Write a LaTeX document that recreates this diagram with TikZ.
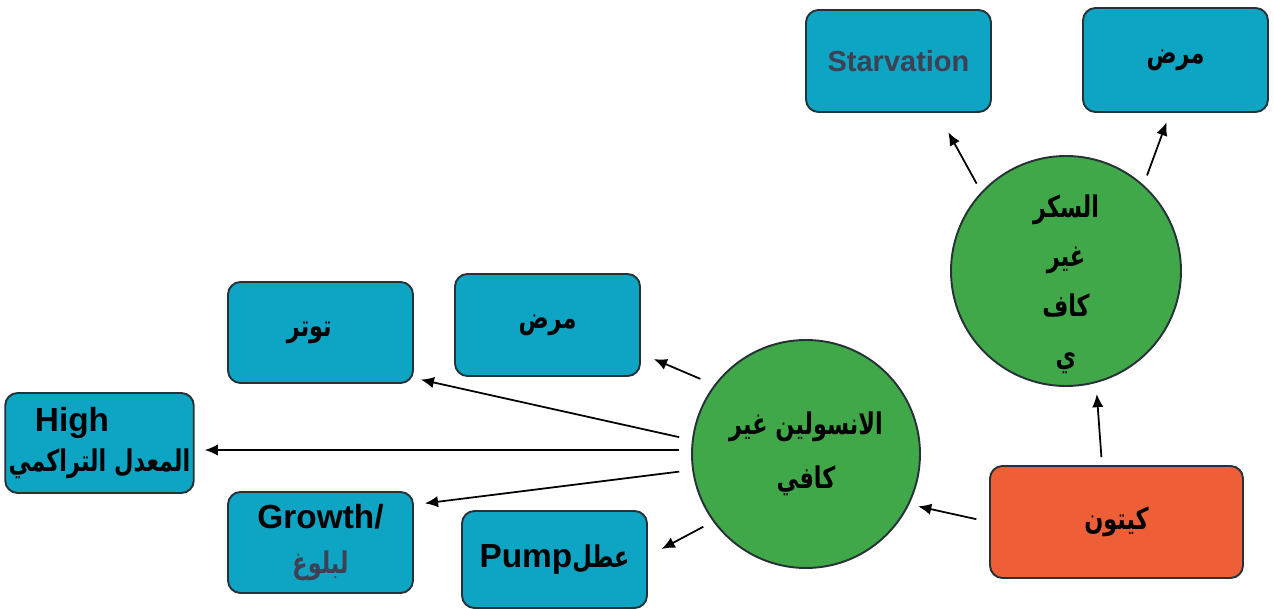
\documentclass[tikz,border=0pt]{standalone}
\usepackage{fontspec}
\setmainfont{Liberation Sans}
\newfontfamily\arabicfont[Script=Arabic, FakeStretch=0.75]{DejaVu Sans}
\TeXXeTstate=1
\usetikzlibrary{arrows.meta}
\definecolor{boxfill}{RGB}{14, 164, 196}
\definecolor{boxline}{RGB}{38, 50, 56}
\definecolor{causefill}{RGB}{64, 168, 72}
\definecolor{ketofill}{RGB}{238, 95, 56}
\definecolor{softtext}{RGB}{62, 64, 84}
\newcommand{\arb}[1]{{\arabicfont\fontsize{17}{20}\selectfont\beginR #1\endR}}
\tikzset{
    every node/.style={font=\bfseries\fontsize{19}{23}\selectfont},
    effect/.style={draw=boxline, line width=1.1pt, fill=boxfill,
        rounded corners=.25cm, minimum width=3.7cm, minimum height=2.02cm,
        align=center, inner sep=2pt},
    cause/.style={circle, draw=boxline, line width=1.1pt, fill=causefill,
        minimum size=4.56cm, align=center, inner sep=0pt},
    flow/.style={-{Latex[length=7.5pt, width=6.5pt]}, line width=1pt},
}

\begin{document}
\begin{tikzpicture}
    \useasboundingbox (0, 0) rectangle (25.48, 12.18);
    % the two causes and the ketone box
    \node[cause, font=\bfseries\fontsize{19}{31}\selectfont] (ins)
        at (16.12, 3.10) {\arb{الانسولين غير}\\\arb{كافي}};
    \node[cause, minimum size=4.6cm, label={[align=center, yshift=-.26cm,
        font=\bfseries\fontsize{19}{28.3}\selectfont]center:
        \arb{السكر}\\\arb{غير}\\\arb{كاف}\\\arb{ي}}]
        (sugar) at (21.32, 6.76) {};
    \node[effect, fill=ketofill, minimum width=5.06cm, minimum height=2.24cm]
        (keton) at (22.33, 1.74) {\arb{كيتون}};
    % effects
    \node[effect, minimum height=2.04cm] (starv) at (17.97, 10.96)
        {\color{softtext}\fontsize{16.5}{20}\selectfont Starvation};
    \node[effect, minimum height=2.08cm] (disT) at (23.51, 10.98) {\arb{مرض}};
    \node[effect] (stress) at (6.41, 5.53) {\arb{توتر}\hspace*{.45cm}};
    \node[effect, minimum height=2.04cm] (disM) at (10.95, 5.68) {\arb{مرض}};
    \node[effect, minimum height=2cm, font=\bfseries\fontsize{19}{22.8}\selectfont]
        (high) at (1.99, 3.32) {High\hspace*{1.1cm}\\\arb{المعدل التراكمي}};
    \node[effect, font=\bfseries\fontsize{19}{25.6}\selectfont] (growth)
        at (6.41, 1.33) {Growth/\\{\color{softtext}\arb{لبلوغ}}};
    \node[effect, minimum height=1.94cm] (pump) at (11.09, .99)
        {Pump\arb{عطل}};
    % arrows
    \draw[flow, shorten <=.3cm, shorten >=.28cm] (ins.143) -- (disM.-17);
    \draw[flow, shorten <=.26cm, shorten >=.14cm] (ins.173) -- (stress.-26);
    \draw[flow, shorten <=.24cm, shorten >=.2cm] (ins.178) -- (ins.178 -| high.east);
    \draw[flow, shorten <=.26cm, shorten >=.22cm] (ins.188) -- (growth.22);
    \draw[flow, shorten <=.22cm, shorten >=.31cm] (ins.216) -- (pump.2);
    \draw[flow, shorten <=.26cm, shorten >=.18cm] (keton.west) -- (ins.-26);
    \draw[flow, shorten <=.16cm, shorten >=.22cm] ([xshift=-.29cm]keton.north)
        -- (sugar.-75);
    \draw[flow, shorten <=.19cm, shorten >=.44cm] (sugar.137) -- (starv.-53);
    \draw[flow, shorten <=.2cm, shorten >=.2cm] (sugar.48) -- (disT.-96);
\end{tikzpicture}
\end{document}
